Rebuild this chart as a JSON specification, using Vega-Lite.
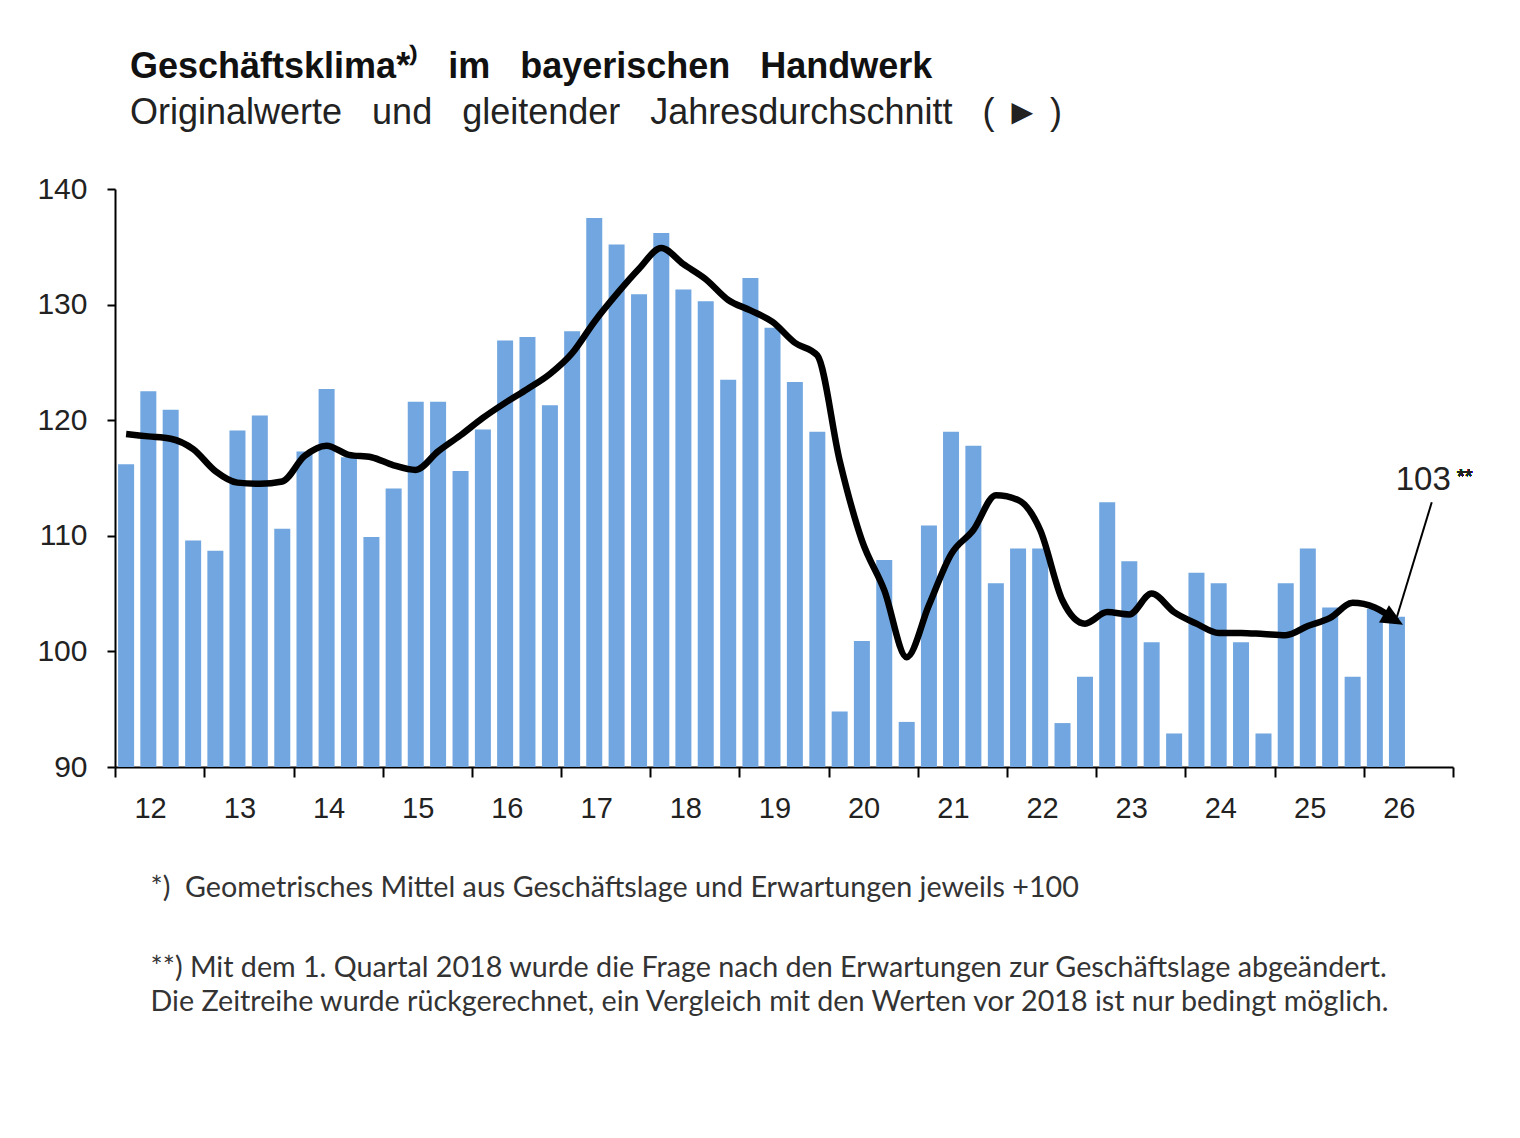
{
  "$schema": "https://vega.github.io/schema/vega-lite/v6.json",
  "description": "Geschäftsklima im bayerischen Handwerk: Quartalswerte und gleitender Jahresdurchschnitt",
  "autosize": {"type": "none"},
  "width": 1338,
  "height": 578,
  "padding": {"left": 115, "top": 189, "right": 67, "bottom": 371},
  "background": "white",
  "title": {
    "text": "Geschäftsklima*⁾ \u00a0\u00a0im \u00a0\u00a0bayerischen \u00a0\u00a0Handwerk",
    "subtitle": "Originalwerte \u00a0\u00a0und \u00a0\u00a0gleitender \u00a0\u00a0Jahresdurchschnitt \u00a0\u00a0( ► )",
    "anchor": "start",
    "frame": "group",
    "dx": 15,
    "offset": 42,
    "font": "Liberation Sans",
    "fontSize": 36,
    "fontWeight": "bold",
    "color": "#111111",
    "subtitleFont": "Liberation Sans",
    "subtitleFontSize": 36,
    "subtitleColor": "#222222",
    "subtitlePadding": 10
  },
  "data": {
    "values": [
      {"quartal": "2012-01-01", "wert": 116.2, "gd": 118.8},
      {"quartal": "2012-04-01", "wert": 122.5, "gd": 118.6},
      {"quartal": "2012-07-01", "wert": 120.9, "gd": 118.4},
      {"quartal": "2012-10-01", "wert": 109.6, "gd": 117.5},
      {"quartal": "2013-01-01", "wert": 108.7, "gd": 115.6},
      {"quartal": "2013-04-01", "wert": 119.1, "gd": 114.6},
      {"quartal": "2013-07-01", "wert": 120.4, "gd": 114.5},
      {"quartal": "2013-10-01", "wert": 110.6, "gd": 114.7},
      {"quartal": "2014-01-01", "wert": 117.3, "gd": 116.9},
      {"quartal": "2014-04-01", "wert": 122.7, "gd": 117.8},
      {"quartal": "2014-07-01", "wert": 116.8, "gd": 117.0},
      {"quartal": "2014-10-01", "wert": 109.9, "gd": 116.8},
      {"quartal": "2015-01-01", "wert": 114.1, "gd": 116.1},
      {"quartal": "2015-04-01", "wert": 121.6, "gd": 115.7},
      {"quartal": "2015-07-01", "wert": 121.6, "gd": 117.3},
      {"quartal": "2015-10-01", "wert": 115.6, "gd": 118.7},
      {"quartal": "2016-01-01", "wert": 119.2, "gd": 120.2},
      {"quartal": "2016-04-01", "wert": 126.9, "gd": 121.5},
      {"quartal": "2016-07-01", "wert": 127.2, "gd": 122.7},
      {"quartal": "2016-10-01", "wert": 121.3, "gd": 124.0},
      {"quartal": "2017-01-01", "wert": 127.7, "gd": 125.8},
      {"quartal": "2017-04-01", "wert": 137.5, "gd": 128.5},
      {"quartal": "2017-07-01", "wert": 135.2, "gd": 130.9},
      {"quartal": "2017-10-01", "wert": 130.9, "gd": 133.1},
      {"quartal": "2018-01-01", "wert": 136.2, "gd": 134.9},
      {"quartal": "2018-04-01", "wert": 131.3, "gd": 133.5},
      {"quartal": "2018-07-01", "wert": 130.3, "gd": 132.2},
      {"quartal": "2018-10-01", "wert": 123.5, "gd": 130.4},
      {"quartal": "2019-01-01", "wert": 132.3, "gd": 129.5},
      {"quartal": "2019-04-01", "wert": 128.0, "gd": 128.5},
      {"quartal": "2019-07-01", "wert": 123.3, "gd": 126.7},
      {"quartal": "2019-10-01", "wert": 119.0, "gd": 125.6},
      {"quartal": "2020-01-01", "wert": 94.8, "gd": 116.5},
      {"quartal": "2020-04-01", "wert": 100.9, "gd": 109.6},
      {"quartal": "2020-07-01", "wert": 107.9, "gd": 105.3},
      {"quartal": "2020-10-01", "wert": 93.9, "gd": 99.5},
      {"quartal": "2021-01-01", "wert": 110.9, "gd": 104.0},
      {"quartal": "2021-04-01", "wert": 119.0, "gd": 108.4},
      {"quartal": "2021-07-01", "wert": 117.8, "gd": 110.5},
      {"quartal": "2021-10-01", "wert": 105.9, "gd": 113.5},
      {"quartal": "2022-01-01", "wert": 108.9, "gd": 113.1},
      {"quartal": "2022-04-01", "wert": 108.9, "gd": 110.5},
      {"quartal": "2022-07-01", "wert": 93.8, "gd": 104.4},
      {"quartal": "2022-10-01", "wert": 97.8, "gd": 102.4},
      {"quartal": "2023-01-01", "wert": 112.9, "gd": 103.4},
      {"quartal": "2023-04-01", "wert": 107.8, "gd": 103.2},
      {"quartal": "2023-07-01", "wert": 100.8, "gd": 105.0},
      {"quartal": "2023-10-01", "wert": 92.9, "gd": 103.4},
      {"quartal": "2024-01-01", "wert": 106.8, "gd": 102.4},
      {"quartal": "2024-04-01", "wert": 105.9, "gd": 101.6},
      {"quartal": "2024-07-01", "wert": 100.8, "gd": 101.6},
      {"quartal": "2024-10-01", "wert": 92.9, "gd": 101.5},
      {"quartal": "2025-01-01", "wert": 105.9, "gd": 101.4},
      {"quartal": "2025-04-01", "wert": 108.9, "gd": 102.2},
      {"quartal": "2025-07-01", "wert": 103.8, "gd": 102.9},
      {"quartal": "2025-10-01", "wert": 97.8, "gd": 104.2},
      {"quartal": "2026-01-01", "wert": 103.7, "gd": 103.8},
      {"quartal": "2026-04-01", "wert": 103.0, "gd": 102.6}
    ]
  },
  "layer": [
    {
      "mark": {"type": "bar", "color": "#71a6e0", "width": 16},
      "encoding": {
        "x": {
          "field": "quartal",
          "timeUnit": "utcyearquarter",
          "type": "temporal",
          "bandPosition": 0.5,
          "scale": {
            "type": "utc",
            "domain": [
              {"year": 2012, "month": 1, "date": 1, "utc": true},
              {"year": 2027, "month": 1, "date": 1, "utc": true}
            ],
            "nice": false
          },
          "axis": {
            "tickCount": {"interval": "year", "step": 1},
            "labelExpr": "utcyear(datum.value) < 2027 ? utcFormat(datum.value, '%y') : ''",
            "labelOffset": 35,
            "labelOverlap": false,
            "labelFlush": false,
            "labelPadding": 17,
            "labelFont": "Liberation Sans",
            "labelFontSize": 29,
            "labelColor": "#222222",
            "grid": false,
            "domainColor": "#000000",
            "domainWidth": 2,
            "tickColor": "#000000",
            "tickWidth": 2,
            "tickSize": 10,
            "title": "*) \u00a0Geometrisches Mittel aus Geschäftslage und Erwartungen jeweils +100",
            "titleFont": "Lato",
            "titleFontSize": 28.7,
            "titleFontWeight": "normal",
            "titleColor": "#333333",
            "titleAnchor": "start",
            "titleAlign": "left",
            "titleBaseline": "alphabetic",
            "titleX": 35,
            "titleY": 129
          }
        },
        "y": {
          "field": "wert",
          "type": "quantitative",
          "scale": {"domain": [90, 140], "nice": false, "zero": false},
          "axis": {
            "values": [90, 100, 110, 120, 130, 140],
            "grid": false,
            "labelFont": "Liberation Sans",
            "labelFontSize": 30,
            "labelColor": "#222222",
            "labelPadding": 20,
            "domainColor": "#000000",
            "domainWidth": 2,
            "tickColor": "#000000",
            "tickWidth": 2,
            "tickSize": 8,
            "title": [
              "\u00a0**) Mit dem 1. Quartal 2018 wurde die Frage nach den Erwartungen zur Geschäftslage abgeändert.",
              "Die Zeitreihe wurde rückgerechnet, ein Vergleich mit den Werten vor 2018 ist nur bedingt möglich."
            ],
            "titleFont": "Lato",
            "titleFontSize": 28.7,
            "titleFontWeight": "normal",
            "titleColor": "#333333",
            "titleAngle": 0,
            "titleAnchor": "start",
            "titleAlign": "left",
            "titleBaseline": "alphabetic",
            "titleX": 35,
            "titleY": 787,
            "titleLineHeight": 34
          }
        },
        "y2": {"datum": 90}
      }
    },
    {
      "mark": {"type": "line", "color": "#000000", "strokeWidth": 6.5, "interpolate": "monotone", "strokeCap": "butt"},
      "encoding": {
        "x": {"field": "quartal", "timeUnit": "utcyearquarter", "type": "temporal", "bandPosition": 0.5},
        "y": {"field": "gd", "type": "quantitative"}
      }
    },
    {
      "transform": [{"filter": "utcyear(datum.quartal) == 2026 && utcquarter(datum.quartal) == 2"}],
      "mark": {
        "type": "point",
        "shape": "M0.35,0 L-0.75,-0.5 L-0.75,0.5 Z",
        "size": 1600,
        "filled": true,
        "opacity": 1,
        "color": "#000000",
        "angle": 30
      },
      "encoding": {
        "x": {"field": "quartal", "timeUnit": "utcyearquarter", "type": "temporal", "bandPosition": 0.5},
        "y": {"field": "gd", "type": "quantitative"}
      }
    },
    {
      "transform": [{"filter": "utcyear(datum.quartal) == 2026 && utcquarter(datum.quartal) == 2"}],
      "mark": {"type": "rule", "color": "#000000", "strokeWidth": 2},
      "encoding": {
        "x": {"field": "quartal", "timeUnit": "utcyearquarter", "type": "temporal", "bandPosition": 0.5},
        "y": {"field": "wert", "type": "quantitative"},
        "x2": {"datum": {"year": 2026, "month": 10, "date": 6, "utc": true}},
        "y2": {"datum": 112.9}
      }
    },
    {
      "transform": [{"filter": "utcyear(datum.quartal) == 2026 && utcquarter(datum.quartal) == 2"}],
      "mark": {"type": "text", "font": "Liberation Sans", "fontSize": 33, "color": "#222222", "align": "center", "baseline": "alphabetic"},
      "encoding": {
        "x": {"datum": {"year": 2026, "month": 9, "date": 1, "utc": true}, "type": "temporal"},
        "y": {"datum": 113.96, "type": "quantitative"},
        "text": {"field": "wert", "type": "quantitative", "format": ".0f"}
      }
    },
    {
      "mark": {"type": "text", "font": "Liberation Sans", "fontSize": 20, "color": "#222222", "align": "center", "baseline": "alphabetic"},
      "encoding": {
        "x": {"datum": {"year": 2027, "month": 2, "date": 18, "utc": true}, "type": "temporal"},
        "y": {"datum": 114.6, "type": "quantitative"},
        "text": {"value": "**"}
      }
    }
  ],
  "config": {"view": {"stroke": null}}
}
